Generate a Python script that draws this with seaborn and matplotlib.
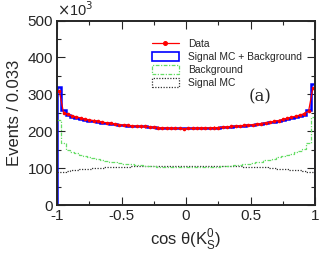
import matplotlib

matplotlib.use("Agg")
import matplotlib.pyplot as plt
import numpy as np
import pandas as pd
import seaborn as sns
from matplotlib.lines import Line2D
from matplotlib.patches import Patch
from matplotlib.ticker import MultipleLocator

# 60 bins of width 0.033 on cos(theta) in [-1, 1], values in units of 10^3
n_bins = 60
bin_edges = np.linspace(-1.0, 1.0, n_bins + 1)

data_counts = [
    310, 250, 246, 242, 239, 236, 233, 231, 229, 227,
    225, 223, 222, 220, 218, 217, 216, 215, 214, 213,
    213, 212, 211, 210, 209, 209, 208, 208, 208, 207,
    208, 208, 208, 209, 209, 209, 210, 210, 211, 212,
    213, 214, 215, 216, 217, 218, 219, 221, 223, 225,
    227, 229, 232, 235, 238, 241, 244, 248, 255, 318,
]
background = [
    230, 167, 150, 145, 140, 136, 133, 130, 127, 125,
    122, 120, 118, 116, 114, 112, 111, 110, 109, 108,
    107, 106, 105, 104, 103, 102, 102, 102, 102, 102,
    102, 102, 102, 102, 103, 103, 104, 104, 105, 106,
    107, 108, 109, 110, 112, 114, 116, 118, 121, 123,
    126, 129, 133, 136, 139, 143, 147, 152, 168, 239,
]
signal_mc = [
    90, 91, 93, 94, 96, 97, 98, 99, 100, 100,
    101, 102, 102, 103, 103, 104, 104, 105, 105, 105,
    106, 106, 106, 106, 106, 106, 106, 106, 106, 106,
    106, 106, 106, 106, 106, 106, 106, 106, 106, 106,
    105, 105, 105, 104, 104, 103, 103, 102, 102, 101,
    100, 99, 98, 97, 96, 95, 94, 93, 91, 90,
]

centers = 0.5 * (bin_edges[:-1] + bin_edges[1:])
df = pd.DataFrame({
    "cos": centers,
    "data": data_counts,
    "bkg": background,
    "sig": signal_mc,
})
df["total"] = df["bkg"] + df["sig"]

sns.set_style("ticks")
plt.rcParams["font.family"] = ["Liberation Sans", "DejaVu Sans"]

fig = plt.figure(figsize=(3.32, 2.57), dpi=100)
ax = fig.add_axes([0.172, 0.202, 0.777, 0.718])

sns.histplot(data=df, x="cos", weights="sig", bins=n_bins, binrange=(-1, 1), element="step",
             fill=False, color="#333333", linestyle=(0, (1, 1.2)), linewidth=0.9, ax=ax)
sns.histplot(data=df, x="cos", weights="bkg", bins=n_bins, binrange=(-1, 1), element="step",
             fill=False, color="#66dd66", linestyle=(0, (3, 1.2, 1, 1.2)), linewidth=0.9, ax=ax)
ax.stairs(df["total"], bin_edges, baseline=0, color="blue", linewidth=1.8)
ax.errorbar(df["cos"], df["data"], yerr=3, fmt="none", ecolor="red", elinewidth=0.8)
sns.lineplot(data=df, x="cos", y="data", color="red", marker="o", markersize=2.6,
             markeredgewidth=0, linewidth=0.9, ax=ax)

ax.set_xlim(-1, 1)
ax.set_ylim(0, 500)
ax.xaxis.set_major_locator(MultipleLocator(0.5))
ax.xaxis.set_minor_locator(MultipleLocator(0.25))
ax.yaxis.set_major_locator(MultipleLocator(100))
ax.yaxis.set_minor_locator(MultipleLocator(50))
ax.set_xticks([-1, -0.5, 0, 0.5, 1], ["-1", "-0.5", "0", "0.5", "1"])
ax.tick_params(which="both", direction="in", top=True, right=True, labelsize=11, width=0.8)
ax.tick_params(which="major", length=6, pad=3)
ax.tick_params(which="minor", length=3)
for side in ax.spines.values():
    side.set_linewidth(1.4)

ax.set_xlabel(r"cos $\mathregular{\theta}$(K$_\mathregular{S}^\mathregular{0}$)", fontsize=12, labelpad=2)
ax.set_ylabel("Events / 0.033", fontsize=12, labelpad=4)
ax.text(-1.0, 505, r"$\times$10$^3$", fontsize=10.5, ha="left", va="bottom")
ax.text(0.57, 292, "(a)", fontsize=12, family="DejaVu Serif", ha="center", va="center")

handles = [
    Line2D([], [], color="red", marker="o", markersize=2.6, linewidth=0.9),
    Patch(facecolor="white", edgecolor="blue", linewidth=1.2),
    Patch(facecolor="white", edgecolor="#66dd66", linestyle=(0, (3, 1.2, 1, 1.2)), linewidth=0.9),
    Patch(facecolor="white", edgecolor="#333333", linestyle=(0, (1, 1.2)), linewidth=0.9),
]
labels = ["Data", "Signal MC + Background", "Background", "Signal MC"]
ax.legend(handles, labels, loc="upper left", bbox_to_anchor=(0.34, 0.94), frameon=False,
          fontsize=7.4, handlelength=2.6, handleheight=1.0, labelspacing=0.28,
          borderpad=0.2, handletextpad=0.9)

fig.savefig("out.png", dpi=100)
